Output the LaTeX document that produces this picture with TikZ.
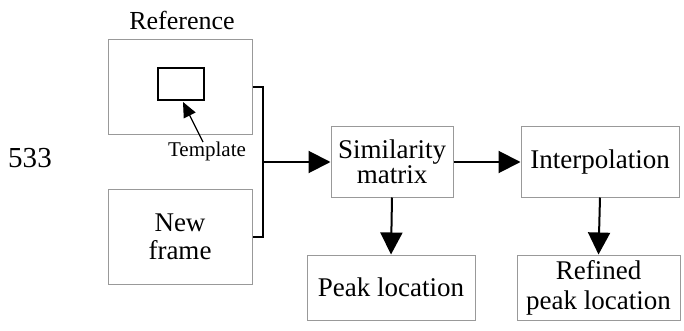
\documentclass[tikz,border=0pt]{standalone}
\usepackage{fontspec}
\setmainfont{Liberation Serif}
\usetikzlibrary{arrows.meta}
\begin{document}
\begin{tikzpicture}[x=1pt,y=-1pt,
  box/.style={draw=black!40, line width=1pt, inner sep=0pt, align=center},
  conn/.style={line width=2pt, black},
  arr/.style={conn, -{Triangle[length=22pt,width=22pt]}}]
\useasboundingbox (0,0) rectangle (684,331);
% left side
\node[font=\fontsize{29}{29}\selectfont, inner sep=0pt] (num) at (30,158.5) {533};
\node[box, minimum width=144pt, minimum height=95pt] (ref) at (180,87.5) {};
\node[font=\fontsize{26}{26}\selectfont, inner sep=0pt] (reflabel) at (182,20) {Reference};
\node[draw, line width=2pt, minimum width=46pt, minimum height=32pt, inner sep=0pt] (tmpl) at (181,84) {};
\node[font=\fontsize{21}{21}\selectfont, inner sep=0pt] (tlabel) at (207,151) {Template};
\coordinate (tstart) at (203,142);
\coordinate (ttip) at (183,102);
\draw[line width=1.2pt, -{Triangle[length=15pt,width=13pt]}] (tstart) -- (ttip);
\node[box, minimum width=144pt, minimum height=95pt, font=\fontsize{27}{28}\selectfont] (new) at (180,236.5) {New\\frame};
% bracket
\coordinate (bx) at (263,0);
\coordinate (bm) at (263,162);
\draw[conn] (ref.east) -- (ref.east -| bx) -- (new.east -| bx) -- (new.east);
% right side
\node[box, minimum width=122pt, minimum height=70pt, font=\fontsize{27}{25}\selectfont] (sim) at (392,162) {Similarity\\matrix};
\node[box, minimum width=158pt, minimum height=70pt, font=\fontsize{27}{27}\selectfont] (interp) at (600,162) {Interpolation};
\node[box, minimum width=168pt, minimum height=65pt, font=\fontsize{27}{27}\selectfont] (peak) at (391,287.5) {Peak location};
\node[box, minimum width=163pt, minimum height=65pt, font=\fontsize{27}{30}\selectfont] (refined) at (598.5,287.5) {Refined\\peak location};
\draw[arr] (bm) -- (sim.west);
\draw[arr] (sim.east) -- (interp.west);
\draw[arr] (sim.south) -- (peak.north);
\draw[arr] (interp.south) -- (refined.north);
\end{tikzpicture}
\end{document}
